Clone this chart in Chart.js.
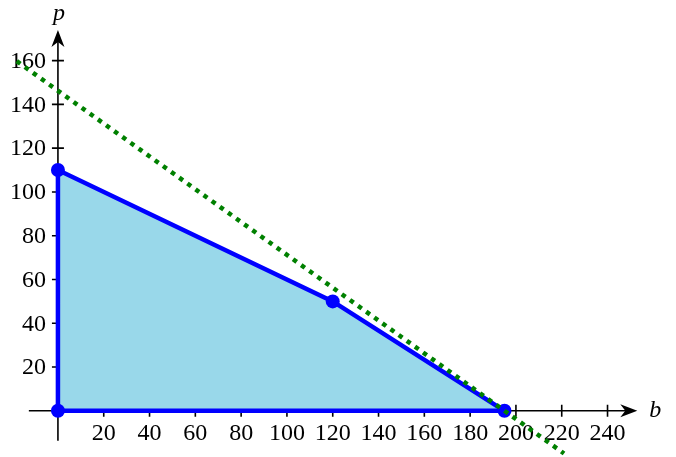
<!DOCTYPE html>
<html>
<head>
<meta charset="utf-8">
<script src="https://cdn.jsdelivr.net/npm/chart.js@4"></script>
<style>
  html, body { margin: 0; padding: 0; background: #fff; overflow: hidden; }
  #wrap { width: 676px; height: 457px; }
</style>
</head>
<body>
<div id="wrap"><canvas id="chart"></canvas></div>
<script>
// feasible region vertices (b, p), left to right
const regionB = [0, 0, 120, 195];
const regionP = [0, 110, 50, 0];
// closing edge along the b axis
const baseB = [0, 195];
const baseP = [0, 0];
// dotted constraint line endpoints
const lineB = [-18, 221];
const lineP = [159.75, -19.5];
const xTicks = [20, 40, 60, 80, 100, 120, 140, 160, 180, 200, 220, 240];
const yTicks = [20, 40, 60, 80, 100, 120, 140, 160];

const SERIF = "'Liberation Serif'";
const toPoints = (xs, ys) => xs.map((x, i) => ({ x: x, y: ys[i] }));

const axesPlugin = {
  id: "axes",
  beforeDatasetsDraw(chart) {
    const { ctx, scales } = chart;
    const sx = scales.x, sy = scales.y;
    const x0 = sx.getPixelForValue(0), y0 = sy.getPixelForValue(0);
    const xL = sx.getPixelForValue(-12.7), xR = sx.getPixelForValue(253);
    const yB = sy.getPixelForValue(-13.7), yT = sy.getPixelForValue(174);
    ctx.save();
    ctx.strokeStyle = "#000";
    ctx.fillStyle = "#000";
    ctx.lineWidth = 1.6;
    ctx.beginPath();
    ctx.moveTo(xL, y0); ctx.lineTo(xR - 10, y0);
    ctx.moveTo(x0, yB); ctx.lineTo(x0, yT + 10);
    xTicks.forEach(v => {
      const px = sx.getPixelForValue(v);
      ctx.moveTo(px, y0 - 6); ctx.lineTo(px, y0 + 6);
    });
    yTicks.forEach(v => {
      const py = sy.getPixelForValue(v);
      ctx.moveTo(x0 - 6, py); ctx.lineTo(x0 + 6, py);
    });
    ctx.stroke();
    // arrow heads
    ctx.beginPath();
    ctx.moveTo(xR, y0); ctx.lineTo(xR - 17, y0 - 6.5); ctx.lineTo(xR - 12, y0); ctx.lineTo(xR - 17, y0 + 6.5);
    ctx.closePath(); ctx.fill();
    ctx.beginPath();
    ctx.moveTo(x0, yT); ctx.lineTo(x0 - 6.5, yT + 17); ctx.lineTo(x0, yT + 12); ctx.lineTo(x0 + 6.5, yT + 17);
    ctx.closePath(); ctx.fill();
    // tick labels
    ctx.font = "24px " + SERIF;
    ctx.textAlign = "center";
    ctx.textBaseline = "middle";
    xTicks.forEach(v => ctx.fillText(String(v), sx.getPixelForValue(v), y0 + 23));
    ctx.textAlign = "right";
    yTicks.forEach(v => ctx.fillText(String(v), x0 - 12, sy.getPixelForValue(v) + 1));
    // axis titles
    ctx.font = "italic 24px " + SERIF;
    ctx.textAlign = "left";
    ctx.fillText("b", xR + 12, y0);
    ctx.textAlign = "center";
    ctx.fillText("p", x0 + 1, yT - 16);
    ctx.restore();
  }
};

function draw() {
  new Chart(document.getElementById("chart"), {
    type: "line",
    data: {
      datasets: [
        {
          data: toPoints(lineB, lineP),
          borderColor: "#008000",
          borderWidth: 4.5,
          borderDash: [4.5, 5.5],
          borderCapStyle: "butt",
          pointRadius: 0,
          fill: false,
          order: 0
        },
        {
          data: toPoints(baseB, baseP),
          borderColor: "#0000ff",
          borderWidth: 4.5,
          pointRadius: 0,
          fill: false,
          order: 1
        },
        {
          data: toPoints(regionB, regionP),
          borderColor: "#0000ff",
          borderWidth: 4.5,
          backgroundColor: "#99d8ea",
          fill: "origin",
          tension: 0,
          pointRadius: 7,
          pointBackgroundColor: "#0000ff",
          pointBorderColor: "#0000ff",
          pointBorderWidth: 0,
          order: 2
        }
      ]
    },
    options: {
      responsive: true,
      maintainAspectRatio: false,
      animation: false,
      layout: { padding: 0, autoPadding: false },
      plugins: { legend: { display: false }, tooltip: { enabled: false } },
      scales: {
        x: { type: "linear", display: false, min: -25.3, max: 269.9 },
        y: { type: "linear", display: false, min: -21.1, max: 187.7 }
      }
    },
    plugins: [axesPlugin]
  });
}

if (document.fonts && document.fonts.load) {
  Promise.all([
    document.fonts.load("24px 'Liberation Serif'"),
    document.fonts.load("italic 24px 'Liberation Serif'")
  ]).then(draw, draw);
} else {
  draw();
}
</script>
</body>
</html>
